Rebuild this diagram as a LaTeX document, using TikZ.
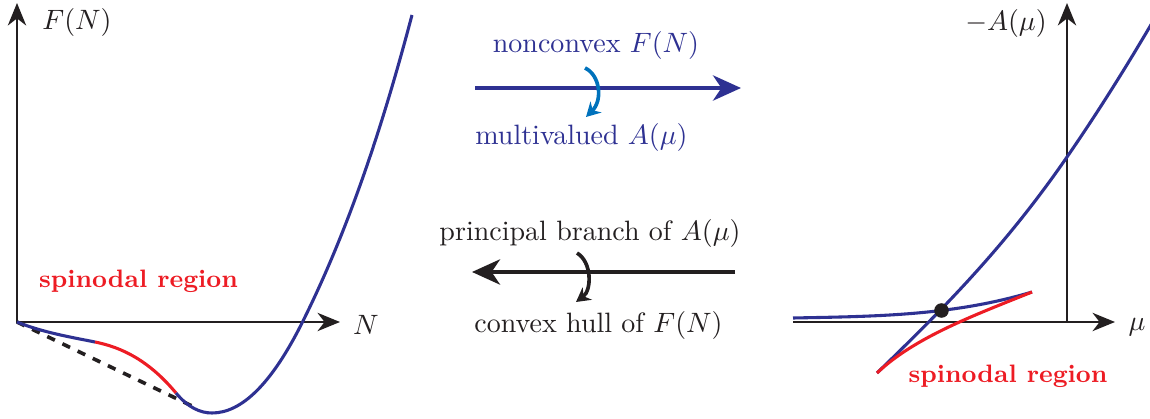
\documentclass[tikz,border=0pt]{standalone}
\usetikzlibrary{arrows.meta}
\definecolor{cblue}{HTML}{2E3192}
\definecolor{cred}{HTML}{ED1C24}
\definecolor{lblue}{HTML}{0072BC}
\definecolor{cblack}{HTML}{231F20}
\begin{document}
\begin{tikzpicture}[x=0.357pt,y=-0.357pt,
  axistip/.tip={Stealth[length=8pt,width=6.5pt,inset=2.5pt]},
  axis/.style={line width=1pt, draw=cblack, line join=miter},
  curve/.style={line width=1.1pt, draw=cblue},
  bigarrow/.style={line width=1.4pt, -{Stealth[length=10pt,width=9pt,inset=3pt]}},
  smallarrow/.style={line width=1.3pt, -{Stealth[length=5pt,width=5.5pt,inset=1.6pt]}},
  lab/.style={inner sep=0pt, text=cblack},
  bluetxt/.style={inner sep=0pt, text=cblue},
  spin/.style={inner sep=0pt, text=cred, font=\small\bfseries}]
\useasboundingbox (0,0) rectangle (1150,419);

% ---------- left panel ----------
\coordinate (O1) at (17,322);
\coordinate (Ytip1) at (17,3);
\coordinate (Xtip1) at (340,322);
\coordinate (H1) at (192,406);
\coordinate (P1) at (95,342);
\coordinate (P2) at (176,393);
\coordinate (P3) at (212,413);
\coordinate (P4) at (302,323);
\coordinate (P5) at (412,15);
\draw[axis, axistip-axistip] (Ytip1) -- (O1) -- (Xtip1);
\node[lab] (FN) at (77,23) {$F(N)$};
\node[lab] (Nl) at (366,325) {$N$};
\node[spin] (sp1) at (138.5,281.5) {spinodal region};
\draw[line width=1.3pt, dashed, cblack] (O1) -- (H1);
\draw[curve] (O1) .. controls (43,332.4) and (69,336.8) .. (P1);
\draw[curve, draw=cred] (P1) .. controls (122,347.4) and (149,360.6) .. (P2);
\draw[curve] (P2) .. controls (188,407.4) and (200,413) .. (P3)
  .. controls (242,413) and (272,383) .. (P4)
  .. controls (338.7,249.6) and (375.3,154.5) .. (P5);

% ---------- middle ----------
\node[bluetxt] (nc) at (596,45.5) {nonconvex $F(N)$};
\coordinate (A1s) at (475,88);
\coordinate (A1e) at (741,88);
\draw[bigarrow, cblue] (A1s) -- (A1e);
\node[bluetxt] (mv) at (581.5,137.5) {multivalued $A(\mu)$};
\coordinate (C1s) at (585,68);
\coordinate (C1e) at (586,117);
\draw[smallarrow, lblue] (C1s) .. controls (600,75) and (603,100) .. (C1e);

\node[lab] (pb) at (590,234) {principal branch of $A(\mu)$};
\coordinate (A2s) at (735,272);
\coordinate (A2e) at (472,272);
\draw[bigarrow, cblack] (A2s) -- (A2e);
\coordinate (C2s) at (577,253);
\coordinate (C2e) at (576,302);
\draw[smallarrow, cblack] (C2s) .. controls (592,262) and (592,290) .. (C2e);
\node[lab] (ch) at (598.5,325) {convex hull of $F(N)$};

% ---------- right panel ----------
\coordinate (X2s) at (793,322);
\coordinate (X2e) at (1115,322);
\coordinate (Y2s) at (1067,322);
\coordinate (Y2e) at (1067,3);
\draw[axis, -axistip] (X2s) -- (X2e);
\draw[axis, -axistip] (Y2s) -- (Y2e);
\node[lab] (mA) at (1006,24) {$-A(\mu)$};
\node[lab] (mu) at (1137,327) {$\mu$};
\coordinate (B0) at (793,318);
\coordinate (R1) at (877,373);
\coordinate (R2) at (1032,292);
\coordinate (Q1) at (1067,157);
\coordinate (Q2) at (1152,23);
\coordinate (D) at (941.5,310.5);
\draw[curve] (B0) .. controls (873,316.4) and (952,316) .. (R2);
\draw[curve] (R1) .. controls (940.3,311.6) and (1003.7,248.8) .. (Q1)
  .. controls (1095.3,116) and (1123.7,71.2) .. (Q2);
\draw[curve, draw=cred] (R1) .. controls (915,337) and (975,315) .. (R2);
\fill[cblack] (D) circle[radius=2.6pt];
\node[spin] (sp2) at (1008,376) {spinodal region};
\end{tikzpicture}
\end{document}
